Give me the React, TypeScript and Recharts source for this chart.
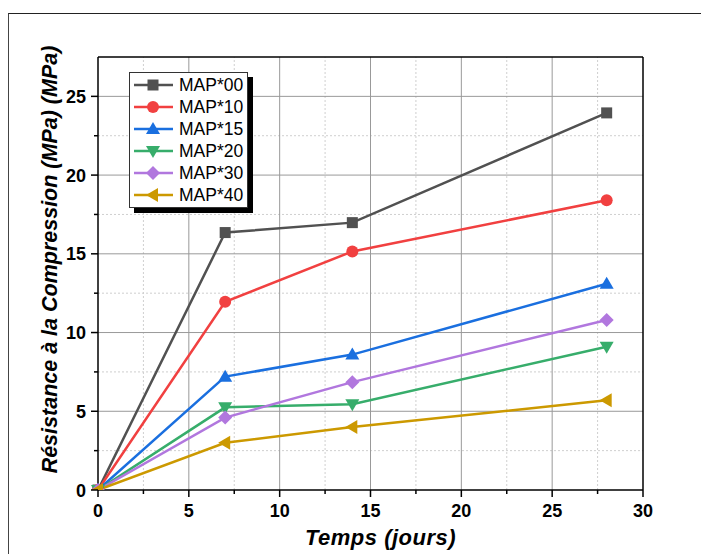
import { LineChart, Line, XAxis, YAxis, ReferenceLine, Legend } from 'recharts';

// test ages (days) and compressive strength per mix (MPa)
const days = [0, 7, 14, 28];
const map00 = [0, 16.35, 16.98, 23.95];
const map10 = [0, 11.95, 15.15, 18.4];
const map15 = [0, 7.2, 8.6, 13.1];
const map20 = [0, 5.25, 5.45, 9.1];
const map30 = [0, 4.6, 6.85, 10.8];
const map40 = [0, 3.0, 4.0, 5.7];

const xTicks = [0, 2.5, 5, 7.5, 10, 12.5, 15, 17.5, 20, 22.5, 25, 27.5, 30];
const yTicks = [0, 2.5, 5, 7.5, 10, 12.5, 15, 17.5, 20, 22.5, 25];
const xMajorGrid = [5, 10, 15, 20, 25];
const xMinorGrid = [2.5, 7.5, 12.5, 17.5, 22.5, 27.5];
const yMajorGrid = [5, 10, 15, 20, 25];
const yMinorGrid = [2.5, 7.5, 12.5, 17.5, 22.5];

const series = [
  { key: 'map00', name: 'MAP*00', values: map00, color: '#515151', shape: 'square' },
  { key: 'map10', name: 'MAP*10', values: map10, color: '#F14040', shape: 'circle' },
  { key: 'map15', name: 'MAP*15', values: map15, color: '#1A6FDF', shape: 'up' },
  { key: 'map20', name: 'MAP*20', values: map20, color: '#37AD6B', shape: 'down' },
  { key: 'map30', name: 'MAP*30', values: map30, color: '#B177DE', shape: 'diamond' },
  { key: 'map40', name: 'MAP*40', values: map40, color: '#CC9900', shape: 'left' },
];

const data = days.map((d, i) => {
  const row: any = { day: d };
  series.forEach((s) => {
    row[s.key] = s.values[i];
  });
  return row;
});

const FONT = '"Liberation Sans", Arial, sans-serif';

function Marker({ shape, cx, cy, color }: { shape: string; cx: number; cy: number; color: string }) {
  if (shape === 'square') {
    return <rect x={cx - 5.5} y={cy - 5.5} width={11} height={11} fill={color} />;
  }
  if (shape === 'circle') {
    return <circle cx={cx} cy={cy} r={6} fill={color} />;
  }
  let pts = '';
  if (shape === 'up') pts = `${cx},${cy - 7} ${cx + 7},${cy + 5} ${cx - 7},${cy + 5}`;
  if (shape === 'down') pts = `${cx},${cy + 7} ${cx + 7},${cy - 5} ${cx - 7},${cy - 5}`;
  if (shape === 'diamond') pts = `${cx},${cy - 7} ${cx + 7},${cy} ${cx},${cy + 7} ${cx - 7},${cy}`;
  if (shape === 'left') pts = `${cx - 7},${cy} ${cx + 5},${cy - 7} ${cx + 5},${cy + 7}`;
  return <polygon points={pts} fill={color} />;
}

function XTick({ x, y, payload }: any) {
  const v = payload.value;
  const major = v % 5 === 0;
  return (
    <g>
      <line x1={x} x2={x} y1={y} y2={y + (major ? 7 : 4)} stroke="#000" strokeWidth={1.5} />
      {major && (
        <text x={x} y={y + 27} textAnchor="middle" fontFamily={FONT} fontWeight="bold" fontSize={18} fill="#000">
          {v}
        </text>
      )}
    </g>
  );
}

function YTick({ x, y, payload }: any) {
  const v = payload.value;
  const major = v % 5 === 0;
  return (
    <g>
      <line x1={x} x2={x - (major ? 7 : 4)} y1={y} y2={y} stroke="#000" strokeWidth={1.5} />
      {major && (
        <text x={x - 12} y={y + 6.5} textAnchor="end" fontFamily={FONT} fontWeight="bold" fontSize={18} fill="#000">
          {v}
        </text>
      )}
    </g>
  );
}

function LegendBox() {
  return (
    <div
      style={{
        background: '#fff',
        border: '1px solid #333',
        boxShadow: '5px 5px 0 #000',
        padding: '1px 4px 1px 3px',
        fontFamily: FONT,
        fontSize: 17.5,
        color: '#000',
      }}
    >
      {series.map((s) => (
        <div key={s.key} style={{ display: 'flex', alignItems: 'center', height: 22 }}>
          <svg width={44} height={22} style={{ display: 'block' }}>
            <line x1={1} x2={40} y1={11} y2={11} stroke={s.color} strokeWidth={2.5} />
            <Marker shape={s.shape} cx={20} cy={11} color={s.color} />
          </svg>
          <span style={{ marginLeft: 2, lineHeight: '22px' }}>{s.name}</span>
        </div>
      ))}
    </div>
  );
}

export default function App() {
  return (
    <div style={{ position: 'absolute', left: 0, top: 0, width: 701, height: 554, background: '#fff' }}>
      <div
        style={{
          position: 'absolute',
          left: 8,
          top: 13,
          right: 0,
          bottom: 0,
          borderTop: '1px solid #222',
          borderLeft: '1px solid #444',
        }}
      />
      <LineChart
        width={701}
        height={554}
        data={data}
        margin={{ top: 57, right: 58, left: 38, bottom: 24 }}
        style={{ position: 'absolute', left: 0, top: 0 }}
      >
        <XAxis
          dataKey="day"
          type="number"
          domain={[0, 30]}
          ticks={xTicks}
          interval={0}
          height={40}
          tickSize={0}
          tickMargin={0}
          tickLine={false}
          tick={<XTick />}
          axisLine={{ stroke: '#000', strokeWidth: 1.5 }}
          label={(props: any) => {
            const vb = props.viewBox || { x: 98, y: 490, width: 545 };
            return (
              <text
                x={vb.x + vb.width / 2 + 10}
                y={vb.y + 55}
                textAnchor="middle"
                fontFamily={FONT}
                fontWeight="bold"
                fontStyle="italic"
                fontSize={22}
                letterSpacing={0.5}
                fill="#000"
              >
                Temps (jours)
              </text>
            );
          }}
        />
        <YAxis
          type="number"
          domain={[0, 27.5]}
          ticks={yTicks}
          interval={0}
          width={60}
          tickSize={0}
          tickMargin={0}
          tickLine={false}
          tick={<YTick />}
          axisLine={{ stroke: '#000', strokeWidth: 1.5 }}
          allowDataOverflow
          label={(props: any) => {
            const vb = props.viewBox || { x: 38, y: 57, height: 433 };
            const tx = vb.x + 19;
            const ty = vb.y + vb.height / 2 - 14;
            return (
              <text
                x={tx}
                y={ty}
                transform={`rotate(-90, ${tx}, ${ty})`}
                textAnchor="middle"
                fontFamily={FONT}
                fontWeight="bold"
                fontStyle="italic"
                fontSize={21.5}
                fill="#000"
              >
                Résistance à la Compression (MPa) (MPa)
              </text>
            );
          }}
        />
        {xMinorGrid.map((v) => (
          <ReferenceLine key={'xm' + v} x={v} stroke="#cfcfcf" strokeDasharray="2 2" />
        ))}
        {yMinorGrid.map((v) => (
          <ReferenceLine key={'ym' + v} y={v} stroke="#cfcfcf" strokeDasharray="2 2" />
        ))}
        {xMajorGrid.map((v) => (
          <ReferenceLine key={'xM' + v} x={v} stroke="#999" />
        ))}
        {yMajorGrid.map((v) => (
          <ReferenceLine key={'yM' + v} y={v} stroke="#999" />
        ))}
        <ReferenceLine y={27.5} stroke="#000" strokeWidth={1.5} />
        <ReferenceLine x={30} stroke="#000" strokeWidth={1.5} />
        {series.map((s) => (
          <Line
            key={s.key}
            dataKey={s.key}
            name={s.name}
            type="linear"
            stroke={s.color}
            strokeWidth={2.5}
            isAnimationActive={false}
            dot={(p: any) => (
              <Marker key={s.key + p.index} shape={s.shape} cx={p.cx} cy={p.cy} color={s.color} />
            )}
            activeDot={false}
          />
        ))}
        <Legend
          layout="vertical"
          align="center"
          verticalAlign="middle"
          content={() => <LegendBox />}
          wrapperStyle={{ left: 129, top: 72, width: 'auto', height: 'auto' }}
        />
      </LineChart>
    </div>
  );
}
